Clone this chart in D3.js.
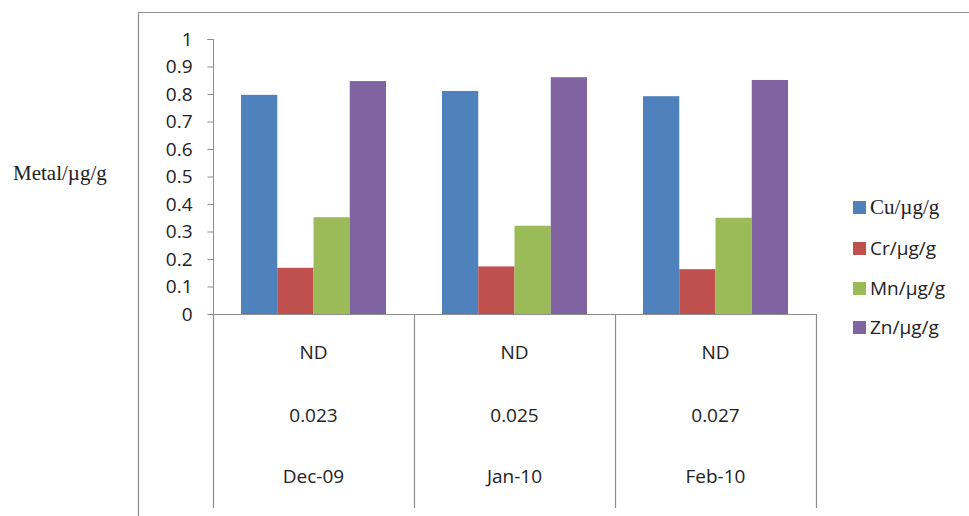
<!DOCTYPE html>
<html><head><meta charset="utf-8">
<script src="https://cdn.jsdelivr.net/npm/d3@7"></script>
<style>html,body{margin:0;padding:0;background:#fff;}svg{display:block;}</style>
</head><body>
<script>
const categories = ["Dec-09", "Jan-10", "Feb-10"];
const seriesNames = ["Cu/µg/g", "Cr/µg/g", "Mn/µg/g", "Zn/µg/g"];
const cuValues = [0.797, 0.811, 0.792];
const crValues = [0.168, 0.173, 0.163];
const mnValues = [0.352, 0.321, 0.350];
const znValues = [0.847, 0.861, 0.851];
const tableRow1 = ["ND", "ND", "ND"];
const tableRow2 = ["0.023", "0.025", "0.027"];
const yTicks = [0, 0.1, 0.2, 0.3, 0.4, 0.5, 0.6, 0.7, 0.8, 0.9, 1];
const colors = ["#4F81BD", "#C0504D", "#9BBB59", "#8064A2"];
const seriesValues = [cuValues, crValues, mnValues, znValues];

const W = 969, H = 516;
const svg = d3.select("body").append("svg").attr("width", W).attr("height", H);
const sans = "'Open Sans', 'Noto Sans', sans-serif";
const serif = "'Liberation Serif', 'DejaVu Serif', serif";

// outer frame
svg.append("path").attr("d", "M138.5,516 V12.5 H969")
  .attr("fill", "none").attr("stroke", "#8c8c8c").attr("stroke-width", 1.2);

const x0 = d3.scaleBand().domain(categories).range([213, 816]).padding(0);
const x1 = d3.scaleBand().domain(seriesNames).range([28, x0.bandwidth() - 28]).padding(0);
const y = d3.scaleLinear().domain([0, 1]).range([314, 39]);

// bars
const groups = svg.append("g").selectAll("g").data(categories).join("g")
  .attr("transform", d => `translate(${x0(d)},0)`);
groups.selectAll("rect").data((c, ci) => seriesNames.map((s, si) => ({s, si, v: seriesValues[si][ci]})))
  .join("rect")
  .attr("x", d => x1(d.s)).attr("width", x1.bandwidth())
  .attr("y", d => y(d.v)).attr("height", d => y(0) - y(d.v))
  .attr("fill", d => colors[d.si]);

// y axis
const yAxis = svg.append("g").attr("transform", "translate(213.5,0)")
  .call(d3.axisLeft(y).tickValues(yTicks).tickFormat(d => d3.format("")(+d.toFixed(1))).tickSize(6).tickPadding(15));
yAxis.select(".domain").attr("stroke", "#8c8c8c").attr("d", "M-6,39.5H0V314");
yAxis.selectAll(".tick line").attr("stroke", "#8c8c8c");
yAxis.selectAll(".tick text").attr("font-family", sans).attr("font-size", 19).attr("fill", "#222");

// table lines
const tbl = svg.append("g").attr("stroke", "#8c8c8c").attr("stroke-width", 1.2);
tbl.append("line").attr("x1", 213.5).attr("x2", 816).attr("y1", 314.5).attr("y2", 314.5);
const bounds = categories.map(c => x0(c)).concat([x0.range()[1]]);
tbl.selectAll(".v").data(bounds).join("line")
  .attr("x1", d => Math.round(d) + 0.5).attr("x2", d => Math.round(d) + 0.5)
  .attr("y1", 314).attr("y2", 508);

// table text
const rows = [tableRow1, tableRow2, categories];
const rowY = [352, 415, 476];
rows.forEach((row, ri) => {
  svg.append("g").selectAll("text").data(row).join("text")
    .attr("x", (d, i) => x0(categories[i]) + x0.bandwidth() / 2)
    .attr("y", rowY[ri]).attr("dy", "0.35em")
    .attr("text-anchor", "middle")
    .attr("font-family", sans).attr("font-size", 19).attr("fill", "#222")
    .text(d => d);
});

// y title
svg.append("text").attr("x", 13).attr("y", 173).attr("dy", "0.35em")
  .attr("font-family", serif).attr("font-size", 21).attr("fill", "#222")
  .text("Metal/µg/g");

// legend
const legY = [207, 248, 288, 327];
const leg = svg.append("g").selectAll("g").data(seriesNames).join("g")
  .attr("transform", (d, i) => `translate(853,${legY[i]})`);
leg.append("rect").attr("x", 0).attr("y", -6).attr("width", 13).attr("height", 13)
  .attr("fill", (d, i) => colors[i]);
leg.append("text").attr("x", 17).attr("dy", "0.35em")
  .attr("font-family", (d, i) => i === 0 ? serif : sans)
  .attr("font-size", (d, i) => i === 0 ? 21 : 19).attr("fill", "#222").text(d => d);
</script>
</body></html>
